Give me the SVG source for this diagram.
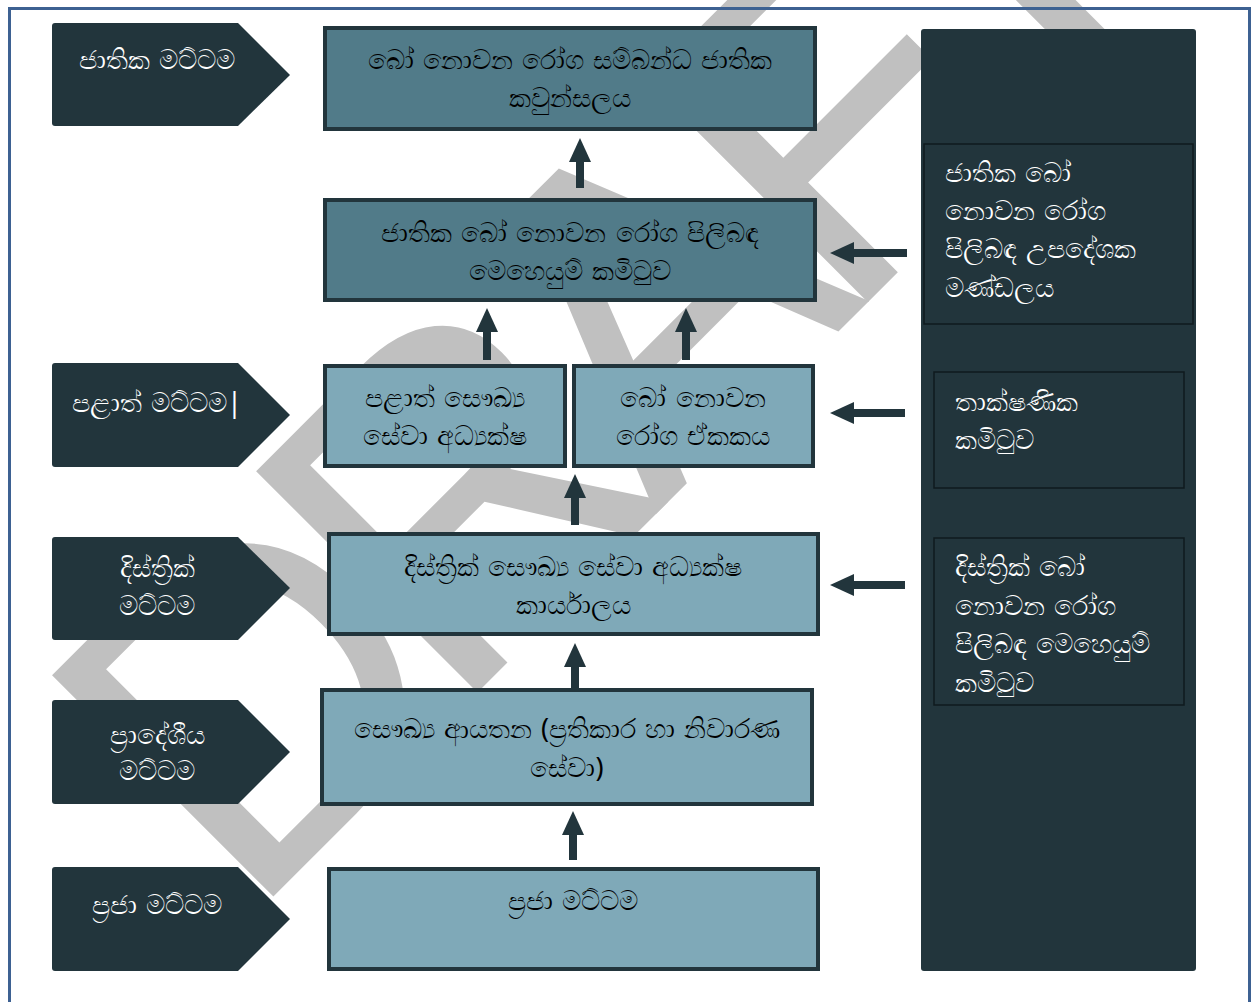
<svg xmlns="http://www.w3.org/2000/svg" width="1252" height="1002" viewBox="0 0 1252 1002">
<defs>
<style>
.lvl{fill:#22353c}
.lvl text{fill:#ffffff}
.t{font-family:"Noto Sans","DejaVu Sans",sans-serif;font-size:27px;word-spacing:2px}
.dark{fill:#517b89;stroke:#22353c;stroke-width:4}
.light{fill:#7fa9b8;stroke:#22353c;stroke-width:4}
.box text{fill:#000000;text-anchor:middle}
.inner{fill:#22353c;stroke:#0f1a1e;stroke-width:1.5}
.side text{fill:#ffffff}
.arr{stroke:#22353c;stroke-width:8;fill:none}
.head{fill:#22353c}
.wm{font-family:"Liberation Sans",Arial,sans-serif;font-size:455px;letter-spacing:-40px;fill:#c0c0c0}
</style>
</defs>
<rect x="0" y="0" width="1252" height="1002" fill="#ffffff"/>
<g id="watermark">
<text class="wm" transform="translate(247,923) rotate(-45)">DRAFT</text>
</g>
<rect x="9.5" y="8.5" width="1240" height="1000" fill="none" stroke="#3d6192" stroke-width="3"/>

<g id="lvl-national" class="lvl">
<path d="M55,23 H238 L290,75 L238,126 H55 Q52,126 52,123 V26 Q52,23 55,23 Z"/>
<text class="t" x="157" y="69" text-anchor="middle">ජාතික මට්ටම</text>
</g>
<g id="lvl-provincial" class="lvl">
<path d="M55,363 H238 L290,415 L238,467 H55 Q52,467 52,464 V366 Q52,363 55,363 Z"/>
<text class="t" x="157" y="412" text-anchor="middle">පළාත් මට්ටම|</text>
</g>
<g id="lvl-district" class="lvl">
<path d="M55,537 H238 L290,588 L238,640 H55 Q52,640 52,637 V540 Q52,537 55,537 Z"/>
<text class="t" x="157" y="577" text-anchor="middle">දිස්ත්‍රික්</text>
<text class="t" x="157" y="615" text-anchor="middle">මට්ටම</text>
</g>
<g id="lvl-regional" class="lvl">
<path d="M55,700 H238 L290,752 L238,804 H55 Q52,804 52,801 V703 Q52,700 55,700 Z"/>
<text class="t" x="157" y="744" text-anchor="middle">ප්‍රාදේශීය</text>
<text class="t" x="157" y="780" text-anchor="middle">මට්ටම</text>
</g>
<g id="lvl-community" class="lvl">
<path d="M55,867 H238 L290,919 L238,971 H55 Q52,971 52,968 V870 Q52,867 55,867 Z"/>
<text class="t" x="157" y="914" text-anchor="middle">ප්‍රජා මට්ටම</text>
</g>

<g id="council" class="box">
<rect class="dark" x="325" y="28" width="490" height="101"/>
<text class="t" x="570" y="69">බෝ නොවන රෝග සම්බන්ධ ජාතික</text>
<text class="t" x="570" y="107">කවුන්සලය</text>
</g>
<g id="steering" class="box">
<rect class="dark" x="325" y="200" width="490" height="100"/>
<text class="t" x="570" y="242">ජාතික බෝ නොවන රෝග පිලිබඳ</text>
<text class="t" x="570" y="280">මෙහෙයුම් කමිටුව</text>
</g>
<g id="pdhs" class="box">
<rect class="light" x="325" y="366" width="240" height="100"/>
<text class="t" x="445" y="407">පළාත් සෞඛ්‍ය</text>
<text class="t" x="445" y="445">සේවා අධ්‍යක්ෂ</text>
</g>
<g id="ncd-unit" class="box">
<rect class="light" x="574" y="366" width="239" height="100"/>
<text class="t" x="693" y="407">බෝ නොවන</text>
<text class="t" x="693" y="445">රෝග ඒකකය</text>
</g>
<g id="rdhs" class="box">
<rect class="light" x="329" y="534" width="489" height="100"/>
<text class="t" x="573" y="576">දිස්ත්‍රික් සෞඛ්‍ය සේවා අධ්‍යක්ෂ</text>
<text class="t" x="573" y="614">කාර්යාලය</text>
</g>
<g id="institutions" class="box">
<rect class="light" x="322" y="690" width="490" height="114"/>
<text class="t" x="567" y="738">සෞඛ්‍ය ආයතන (ප්‍රතිකාර හා නිවාරණ</text>
<text class="t" x="567" y="777">සේවා)</text>
</g>
<g id="community" class="box">
<rect class="light" x="329" y="869" width="489" height="100"/>
<text class="t" x="573" y="910">ප්‍රජා මට්ටම</text>
</g>

<g id="side-panel" class="side">
<rect x="921" y="29" width="275" height="942" rx="3" fill="#22353c"/>
</g>
<g id="advisory" class="side">
<rect class="inner" x="924" y="144" width="269" height="180"/>
<text class="t" x="945" y="182">ජාතික බෝ</text>
<text class="t" x="945" y="220">නොවන රෝග</text>
<text class="t" x="945" y="258">පිලිබඳ උපදේශක</text>
<text class="t" x="945" y="297">මණ්ඩලය</text>
</g>
<g id="technical" class="side">
<rect class="inner" x="934" y="372" width="250" height="116"/>
<text class="t" x="955" y="411">තාක්ෂණික</text>
<text class="t" x="955" y="449">කමිටුව</text>
</g>
<g id="district-committee" class="side">
<rect class="inner" x="934" y="538" width="250" height="167"/>
<text class="t" x="955" y="576">දිස්ත්‍රික් බෝ</text>
<text class="t" x="955" y="615">නොවන රෝග</text>
<text class="t" x="955" y="653">පිලිබඳ  මෙහෙයුම්</text>
<text class="t" x="955" y="692">කමිටුව</text>
</g>

<g id="connectors">
<line class="arr" x1="580" y1="188" x2="580" y2="158"/>
<polygon class="head" points="580,138 569,162 591,162"/>
<line class="arr" x1="487" y1="360" x2="487" y2="328"/>
<polygon class="head" points="487,308 476,332 498,332"/>
<line class="arr" x1="686" y1="360" x2="686" y2="328"/>
<polygon class="head" points="686,308 675,332 697,332"/>
<line class="arr" x1="575" y1="525" x2="575" y2="494"/>
<polygon class="head" points="575,474 564,498 586,498"/>
<line class="arr" x1="575" y1="690" x2="575" y2="663"/>
<polygon class="head" points="575,643 564,667 586,667"/>
<line class="arr" x1="573" y1="860" x2="573" y2="831"/>
<polygon class="head" points="573,811 562,835 584,835"/>
<line class="arr" x1="907" y1="253" x2="850" y2="253"/>
<polygon class="head" points="830,253 854,242 854,264"/>
<line class="arr" x1="905" y1="413" x2="850" y2="413"/>
<polygon class="head" points="830,413 854,402 854,424"/>
<line class="arr" x1="905" y1="585" x2="850" y2="585"/>
<polygon class="head" points="830,585 854,574 854,596"/>
</g>
</svg>
